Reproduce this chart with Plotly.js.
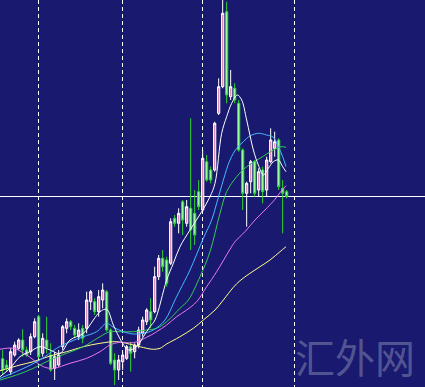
<!DOCTYPE html>
<html>
<head>
<meta charset="utf-8">
<script src="https://cdn.plot.ly/plotly-3.0.1.min.js"></script>
<style>html,body{margin:0;padding:0;background:#191970;}#chart{width:425px;height:387px;}</style>
</head>
<body>
<div id="chart"></div>
<script>
// Candle data (arbitrary price units)
const open  = [28.3,22,15.3,32,38.7,47,37,35.3,50.3,70.3,33.7,47,32,18.7,22,40.3,58.7,65.3,58.7,50.3,58.7,58.7,85.3,85.3,75.3,87,95.3,57,27,17,25.3,28.7,40.3,35.3,42,53.7,65.3,75.3,75.3,110.3,128.7,127,123.7,168.7,163.7,185.3,163.7,178.7,173.7,195.3,177,225.3,217,217,273.7,300.3,375.3,290.3,298.7,283.7,237,193.7,205.3,225.3,197,217,197,225.3,238.7,247,198.7,195.3];
const high  = [37,27,38.7,45.3,48.7,57.7,40.3,53.7,68.7,72,53.7,70.3,43.7,35.3,37,62,68.7,67,62,63.7,62,95.3,97,88.7,97,103.7,97,58.7,33.7,32,35.3,42,45.3,43.7,60.3,70.3,78.7,88.7,120.3,132,137,130.3,168.7,172,178.7,187,187,268.7,197,207,237,232,220.3,265.3,308.7,387,385.3,317,303.7,287,238.7,205.3,227,227,218.7,220.3,230.3,258.7,255.3,248.7,207,197];
const low   = [12,15.3,12,30.3,37,30.3,30.3,32,48.7,28.7,30.3,33.7,15.3,7,20.3,37,53.7,57,48.7,47,43.7,53.7,77,72,70.3,78.7,55.3,22,2,7,17,27,15.3,28.7,38.7,50.3,62,58.7,73.7,107,115.3,100.3,122,160.3,153.7,152,160.3,137,142,177,175.3,205.3,203.7,215.3,272,298.7,283.7,287,283.7,235.3,177,160.3,193.7,190.3,190.3,183.7,190.3,223.7,230.3,197,153.7,188.7];
const close = [17,18.7,35.3,42,47,37,32,50.3,65.3,30.3,48.7,38.7,17,30.3,32,60.3,65.3,60.3,52,57,48.7,87,95.3,75.3,90.3,97,57,23.7,17,27,32,40.3,33.7,42,57,67,77,67,110.3,128.7,120.3,103.7,165.3,163.7,173.7,167,180.3,157,152,180.3,228.7,207,207,263.7,300.3,373.7,292,300.3,287,237,193.7,203.7,225.3,193.7,215.3,195.3,227,247,245.3,200.3,193.7,190.3];

// Moving averages (bar index, price)
const maWhiteX = [-0.67,1.83,4.33,6.83,9.33,11.83,14.33,16.83,20.17,22.67,24.33,26,27.67,29.75,31.42,33.5,35.17,36.83,38.08,41,42.67,44.33,46.83,49.75,51.83,53.08,54.75,56,57.25,58.67,59.75,61,62.67,63.92,65.17,66.42,67.67,68.92,70,70.83];
const maWhite  = [10.3,18.7,30.3,35.3,40.3,37,33.7,47,53.7,67,75.3,77.7,62,45.3,37,40.3,50.3,60.3,67,107,123.7,140.3,157,175.3,190.3,203.7,253.7,270.3,283.7,292,287,267,237,222,212,218.7,225.3,227,220.3,215.3];
const maCyanX = [-0.67,4.33,9.33,13.5,16.83,20.17,23.5,26,27.67,30.17,32.67,35.17,37.67,40.58,43.08,44.33,46.83,50.17,52.25,53.5,55.17,56.83,58.5,60.17,61.83,63.92,66,67.67,68.92,70,70.83];
const maCyan  = [8.7,17,27,38.7,45.3,50.3,55.3,63.7,59.7,55.3,53,53.7,57,67,87,97,117,148.7,167,183.7,207,227,238.7,245.3,251,253.7,252,249.7,240.3,230.3,220.3];
const maGreenX = [-0.67,3.5,7.67,11.83,16,20.17,24.33,26.83,29.33,32.67,36,38.5,41,44.33,46.42,49.33,51.83,54.33,56,58.5,61,64.33,67.67,69.75,70.83];
const maGreen  = [7,12,18.7,27,33.7,40.3,50.3,55.3,55.3,55.3,57,58.7,65.3,78.7,87,110.3,135.3,173.7,195.3,210.3,220.3,228.7,237,240.3,239.7];
const maPinkX = [-0.67,2.67,6,10.17,12.67,16.83,21,24.33,26.83,29.33,32.67,36,38.5,41,43.5,46,48.5,51,53.5,56.83,58.08,60.58,63.08,65.58,68.08,69.33,70.83];
const maPink  = [37.7,38.7,32,20.3,18.7,23.7,28.7,35.3,42,44.7,44.3,49.7,55.3,62,70.3,77,85.3,100.3,115.3,137.7,145.3,155.3,167,177,187.7,194.3,201.3];
const maYellowX = [-0.67,4.33,7.67,11.83,16,20.17,24.33,28.5,32.67,36,37.67,39.33,41,44.33,47.67,50.17,53.08,55.17,57.67,59.33,61.83,64.33,66.83,69.33,70.83];
const maYellow  = [16.3,22,25.3,31,35.3,40.3,43.7,45.3,42,38.7,37.7,38.7,43,50.3,58.7,67,77,87,99.7,106.3,113.7,120.3,127,135.3,140.3];

const periodSeparators = [9.08, 30, 50, 72.9];
const priceLevels = [190.3];
const watermark = '汇外网';

const xIdx = open.map((_, i) => i);

const traces = [
  {
    type: 'candlestick', x: xIdx, open: open, high: high, low: low, close: close,
    increasing: {line: {color: '#ffffff', width: 1}, fillcolor: '#d98fb0'},
    decreasing: {line: {color: '#2fd82f', width: 1}, fillcolor: '#9dff9d'},
    whiskerwidth: 0, hoverinfo: 'skip', showlegend: false
  },
  {type: 'scatter', mode: 'lines', x: maYellowX, y: maYellow, line: {color: '#ffff88', width: 1, shape: 'spline'}, showlegend: false, hoverinfo: 'skip'},
  {type: 'scatter', mode: 'lines', x: maPinkX, y: maPink, line: {color: '#ee77ee', width: 1, shape: 'spline'}, showlegend: false, hoverinfo: 'skip'},
  {type: 'scatter', mode: 'lines', x: maGreenX, y: maGreen, line: {color: '#33cc55', width: 1, shape: 'spline'}, showlegend: false, hoverinfo: 'skip'},
  {type: 'scatter', mode: 'lines', x: maCyanX, y: maCyan, line: {color: '#44bbff', width: 1, shape: 'spline'}, showlegend: false, hoverinfo: 'skip'},
  {type: 'scatter', mode: 'lines', x: maWhiteX, y: maWhite, line: {color: '#ffffff', width: 1, shape: 'spline'}, showlegend: false, hoverinfo: 'skip'}
];

const layout = {
  width: 425, height: 387,
  margin: {l: 0, r: 0, t: 0, b: 0, pad: 0},
  paper_bgcolor: '#191970', plot_bgcolor: '#191970',
  showlegend: false,
  boxgap: 0.2,
  xaxis: {
    range: [-0.667, 105.583], showticklabels: false, zeroline: false, showline: false,
    tickmode: 'array', tickvals: periodSeparators, ticks: '',
    showgrid: true, gridcolor: '#ffffff', gridwidth: 1, griddash: '4px,3px',
    rangeslider: {visible: false}, fixedrange: true
  },
  yaxis: {
    range: [0, 387], showticklabels: false, zeroline: false, showline: false,
    tickmode: 'array', tickvals: priceLevels, ticks: '',
    showgrid: true, gridcolor: '#ffffff', gridwidth: 1, fixedrange: true
  },
  annotations: [{
    xref: 'paper', yref: 'paper', x: 0.835, y: 0.08, xanchor: 'center', yanchor: 'middle',
    text: watermark, showarrow: false,
    font: {family: 'Noto Sans CJK SC', size: 40, color: 'rgba(115,120,165,0.65)'}
  }]
};

Plotly.newPlot('chart', traces, layout, {staticPlot: true, displayModeBar: false});
</script>
</body>
</html>
